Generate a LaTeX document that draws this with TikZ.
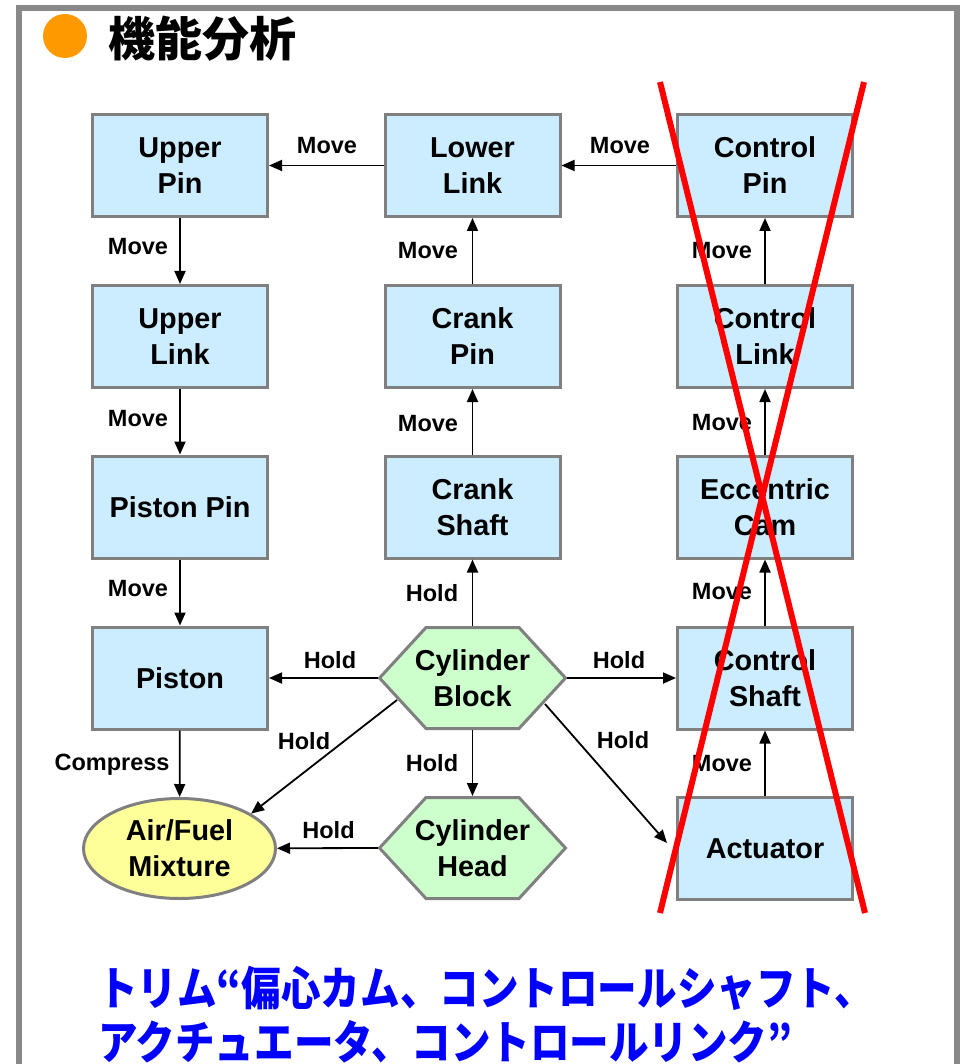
\documentclass[tikz,border=0pt]{standalone}
\usepackage{fontspec}
\setmainfont{Liberation Sans}
\newfontfamily\cjk{Noto Sans CJK JP}
\newfontfamily\cjknarrow{Noto Sans CJK JP}[FakeStretch=0.86]
\usetikzlibrary{arrows.meta,shapes.geometric}
\definecolor{boxblue}{HTML}{CCECFF}
\definecolor{hexgreen}{HTML}{CCFFCC}
\definecolor{ellyel}{HTML}{FFFF99}
\definecolor{bordergray}{HTML}{808080}
\definecolor{framegray}{HTML}{888888}
\definecolor{dotorange}{HTML}{FF9900}
\definecolor{noteblue}{HTML}{0000FF}
\tikzset{
  boxnode/.style={draw=bordergray, line width=3pt, fill=boxblue, minimum width=175pt, minimum height=102pt, inner sep=0pt, align=center, font=\fontsize{28.8}{36}\selectfont\bfseries},
  ellnode/.style={ellipse, draw=bordergray, line width=3pt, fill=ellyel, minimum width=192pt, minimum height=100pt, inner sep=0pt, align=center, font=\fontsize{28.8}{36}\selectfont\bfseries},
  hexpath/.style={draw=bordergray, line width=3pt, fill=hexgreen, line join=miter},
  hexnode/.style={minimum width=189pt, minimum height=104pt, inner sep=0pt, outer sep=0pt, align=center, font=\fontsize{28.8}{36}\selectfont\bfseries},
  arr/.style={-{Triangle[length=13pt,width=11pt]}, line width=1.8pt},
  lab/.style={anchor=base, inner sep=0pt, font=\fontsize{23.5}{28}\selectfont\bfseries},
  cross/.style={draw=red, line width=6pt},
  note/.style={anchor=base west, inner sep=0pt, text=noteblue, font=\cjknarrow\bfseries\fontsize{46}{58}\selectfont},
}
\begin{document}
\begin{tikzpicture}[x=1pt,y=-1pt]
\useasboundingbox (0,0) rectangle (960,1064);
% frame
\draw[framegray, line width=6pt] (19,8) rectangle (957,1100);
\fill[dotorange] (65,36) circle[radius=22pt];
\node[anchor=base west, inner sep=0pt, font=\cjk\bfseries\fontsize{47}{50}\selectfont] (title) at (108,57) {機能分析};

% boxes
\node[boxnode] (up) at (180,165.5) {Upper\\Pin};
\node[boxnode] (ul) at (180,336.5) {Upper\\Link};
\node[boxnode] (pp) at (180,507) {Piston Pin};
\node[boxnode] (pi) at (180,678) {Piston};
\node[ellnode] (af) at (179.5,848.5) {Air/Fuel\\Mixture};

\node[boxnode] (ll) at (472.5,165.5) {Lower\\Link};
\node[boxnode] (cp) at (472.5,336.5) {Crank\\Pin};
\node[boxnode] (cs) at (472.5,507) {Crank\\Shaft};

\coordinate (cbc) at (472.5,678);
\coordinate (chc) at (472.5,848);
\filldraw[hexpath, shift={(cbc)}] (-93,0) -- (-46.5,-50.5) -- (46.5,-50.5) -- (93,0) -- (46.5,50.5) -- (-46.5,50.5) -- cycle;
\filldraw[hexpath, shift={(chc)}] (-93,0) -- (-46.5,-50.5) -- (46.5,-50.5) -- (93,0) -- (46.5,50.5) -- (-46.5,50.5) -- cycle;
\node[hexnode] (cb) at (cbc) {Cylinder\\Block};
\node[hexnode] (ch) at (chc) {Cylinder\\Head};

\node[boxnode] (ctp) at (765,165.5) {Control\\Pin};
\node[boxnode] (cl) at (765,336.5) {Control\\Link};
\node[boxnode] (ec) at (765,507) {Eccentric\\Cam};
\node[boxnode] (csh) at (765,678) {Control\\Shaft};
\node[boxnode] (ac) at (765,848.5) {Actuator};

% connectors
\draw[arr] (ll) -- (up);
\draw[arr] (ctp) -- (ll);
\draw[arr] (up) -- (ul);
\draw[arr] (ul) -- (pp);
\draw[arr] (pp) -- (pi);
\draw[arr] (pi) -- (af);
\draw[arr] (cp) -- (ll);
\draw[arr] (cs) -- (cp);
\draw[arr] (cb.north) -- (cs);
\draw[arr] (cl) -- (ctp);
\draw[arr] (ec) -- (cl);
\draw[arr] (csh) -- (ec);
\draw[arr] (ac) -- (csh);
\draw[arr] (cb.west) -- (pi);
\draw[arr] (cb.east) -- (csh);
\draw[arr] (cb.south) -- (ch.north);
\draw[arr] (ch.west) -- (af);
\coordinate (cbll) at (397,700);
\coordinate (cblr) at (545,704);
\coordinate (acin) at (667,843);
\draw[arr] (cbll) -- (af.26);
\draw[arr] (cblr) -- (acin);

% labels
\node[lab] (l1) at (327,154) {Move};
\node[lab] (l2) at (620,154) {Move};
\node[lab] (l3) at (138,255) {Move};
\node[lab] (l4) at (138,426) {Move};
\node[lab] (l5) at (138,596) {Move};
\node[lab] (l6) at (112,770) {Compress};
\node[lab] (l7) at (428,259) {Move};
\node[lab] (l8) at (428,431) {Move};
\node[lab] (l9) at (432,601) {Hold};
\node[lab] (l10) at (432,771) {Hold};
\node[lab] (l11) at (722,259) {Move};
\node[lab] (l12) at (722,430) {Move};
\node[lab] (l13) at (722,599) {Move};
\node[lab] (l14) at (722,771) {Move};
\node[lab] (l15) at (330,668) {Hold};
\node[lab] (l16) at (619,668) {Hold};
\node[lab] (l17) at (304,749) {Hold};
\node[lab] (l18) at (623,748) {Hold};
\node[lab] (l19) at (328.5,838) {Hold};

% red cross
\draw[cross] (660,82) -- (865,913);
\draw[cross] (864,82) -- (660,913);

% note
\node[note] (n1) at (98,1005) {トリム“偏心カム、コントロールシャフト、};
\node[note] (n2) at (98,1059) {アクチュエータ、コントロールリンク”};
\end{tikzpicture}
\end{document}
